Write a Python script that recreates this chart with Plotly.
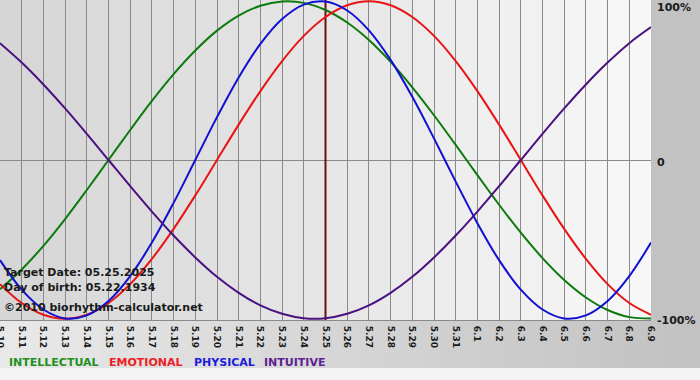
import plotly.graph_objects as go

# ---- data ----
days = ["5.10", "5.11", "5.12", "5.13", "5.14", "5.15", "5.16", "5.17", "5.18", "5.19",
        "5.20", "5.21", "5.22", "5.23", "5.24", "5.25", "5.26", "5.27", "5.28", "5.29",
        "5.30", "5.31", "6.1", "6.2", "6.3", "6.4", "6.5", "6.6", "6.7", "6.8", "6.9"]

intellectual = [-0.815, -0.690, -0.541, -0.372, -0.189, 0.000, 0.189, 0.372, 0.541, 0.690,
                0.815, 0.910, 0.972, 0.999, 0.990, 0.945, 0.866, 0.756, 0.618, 0.458,
                0.282, 0.095, -0.095, -0.282, -0.458, -0.618, -0.756, -0.866, -0.945, -0.990, -0.999]
emotional = [-0.782, -0.901, -0.975, -1.000, -0.975, -0.901, -0.782, -0.623, -0.434, -0.223,
             0.000, 0.223, 0.434, 0.623, 0.782, 0.901, 0.975, 1.000, 0.975, 0.901,
             0.782, 0.623, 0.434, 0.223, 0.000, -0.223, -0.434, -0.623, -0.782, -0.901, -0.975]
physical = [-0.631, -0.817, -0.942, -0.998, -0.979, -0.888, -0.731, -0.520, -0.270, 0.000,
            0.270, 0.520, 0.731, 0.888, 0.979, 0.998, 0.942, 0.817, 0.631, 0.398,
            0.136, -0.136, -0.398, -0.631, -0.817, -0.942, -0.998, -0.979, -0.888, -0.731, -0.520]
intuitive = [0.736, 0.614, 0.476, 0.325, 0.165, 0.000, -0.165, -0.325, -0.476, -0.614,
             -0.736, -0.837, -0.916, -0.969, -0.997, -0.997, -0.969, -0.916, -0.837, -0.736,
             -0.614, -0.476, -0.325, -0.165, 0.000, 0.165, 0.325, 0.476, 0.614, 0.736, 0.837]

target_day = "5.25"
info_lines = ["Target Date: 05.25.2025", "Day of birth: 05.22.1934", "\u00a92010 biorhythm-calculator.net"]
legend_names = ["INTELLECTUAL", "EMOTIONAL", "PHYSICAL", "INTUITIVE"]
y_labels = ["100%", "0", "-100%"]
y_label_vals = [1, 0, -1]

# ---- styling ----
W, H = 700, 380
ML, MR, MT, MB = 0, 49, 0, 60
PW, PH = W - ML - MR, H - MT - MB
FONT = "DejaVu Sans"
Y_RANGE = [-1.008, 1.008]

line_colors = ["#0c7a0c", "#e81414", "#1010d2", "#4a1280"]
legend_colors = ["#1f8f1f", "#ee1c24", "#1c1cdd", "#5e2092"]

x = list(range(len(days)))
series = [intellectual, emotional, physical, intuitive]


def px_x(px):
    return (px - ML) / PW


def px_y(py):
    return (MT + PH - py) / PH


fig = go.Figure()
# target date marker line, drawn first so the curves pass over it
ti = days.index(target_day)
fig.add_trace(go.Scatter(x=[x[ti], x[ti]], y=Y_RANGE, mode="lines",
                         line=dict(color="#6a0e0e", width=2),
                         showlegend=False, hoverinfo="skip"))
for name, vals, col in zip(legend_names, series, line_colors):
    fig.add_trace(go.Scatter(x=x, y=vals, mode="lines", name=name,
                             line=dict(color=col, width=2, shape="spline", smoothing=1.0),
                             showlegend=False, hoverinfo="skip"))

shapes = []
# plot-area gradient (per day column)
n = len(days) - 1
for i in range(n):
    t = i / (n - 1)
    c = int(round(0xd6 + t * (0xf7 - 0xd6)))
    shapes.append(dict(type="rect", xref="x", yref="paper", x0=i, x1=i + 1, y0=0, y1=1,
                       fillcolor=f"rgb({c},{c},{c})", line=dict(width=0), layer="below"))
# bottom band gradient
steps = 35
for i in range(steps):
    t = i / (steps - 1)
    c = int(round(0xe8 + t * (0xc2 - 0xe8)))
    x0 = i * W / steps
    x1 = (i + 1) * W / steps + 1
    shapes.append(dict(type="rect", xref="paper", yref="paper",
                       x0=px_x(x0), x1=px_x(x1), y0=px_y(H - 12), y1=px_y(PH),
                       fillcolor=f"rgb({c},{c},{c})", line=dict(width=0), layer="below"))
# light strip at very bottom
shapes.append(dict(type="rect", xref="paper", yref="paper", x0=px_x(0), x1=px_x(W),
                   y0=px_y(H + 2), y1=px_y(H - 12), fillcolor="#f4f4f4",
                   line=dict(width=0), layer="below"))

annotations = []
info_y = [272, 287, 307]
for txt, py in zip(info_lines, info_y):
    annotations.append(dict(text=txt, xref="paper", yref="paper", x=px_x(2), y=px_y(py),
                            xanchor="left", yanchor="middle", showarrow=False,
                            font=dict(family=FONT, size=11, color="#1a1a1a", weight="bold")))
leg_x = [7, 107, 192, 262]
for txt, px, col in zip(legend_names, leg_x, legend_colors):
    annotations.append(dict(text=txt, xref="paper", yref="paper", x=px_x(px), y=px_y(362),
                            xanchor="left", yanchor="middle", showarrow=False,
                            font=dict(family=FONT, size=11, color=col, weight="bold")))
for txt, v in zip(y_labels, y_label_vals):
    annotations.append(dict(text=txt, xref="paper", yref="y", x=px_x(655), y=v,
                            xanchor="left", yanchor="middle", showarrow=False,
                            yshift=(-6 if v == 1 else -2),
                            font=dict(family=FONT, size=11, color="#1a1a1a", weight="bold")))

fig.update_layout(
    width=W, height=H,
    margin=dict(l=ML, r=MR, t=MT, b=MB, pad=0, autoexpand=False),
    paper_bgcolor="#c2c2c2",
    plot_bgcolor="rgba(0,0,0,0)",
    shapes=shapes,
    annotations=annotations,
    xaxis=dict(range=[0, len(days) - 1], tickmode="array", tickvals=x, ticktext=days,
               tickangle=90, showgrid=True, gridcolor="#8a8a8a", gridwidth=1,
               zeroline=False, showline=True, linecolor="#8a8a8a", linewidth=1, mirror=True,
               ticks="", automargin=False, ticklabelstandoff=3, ticklabeloverflow="allow",
               tickfont=dict(family=FONT, size=9, color="#1a1a1a", weight="bold"),
               fixedrange=True),
    yaxis=dict(range=Y_RANGE, showgrid=False, showticklabels=False,
               zeroline=True, zerolinecolor="#8a8a8a", zerolinewidth=1,
               showline=False, automargin=False, fixedrange=True),
)

fig.write_html("out.html", config={"displayModeBar": False},
               post_script="document.body.style.margin='0px';document.body.style.overflow='hidden';")
